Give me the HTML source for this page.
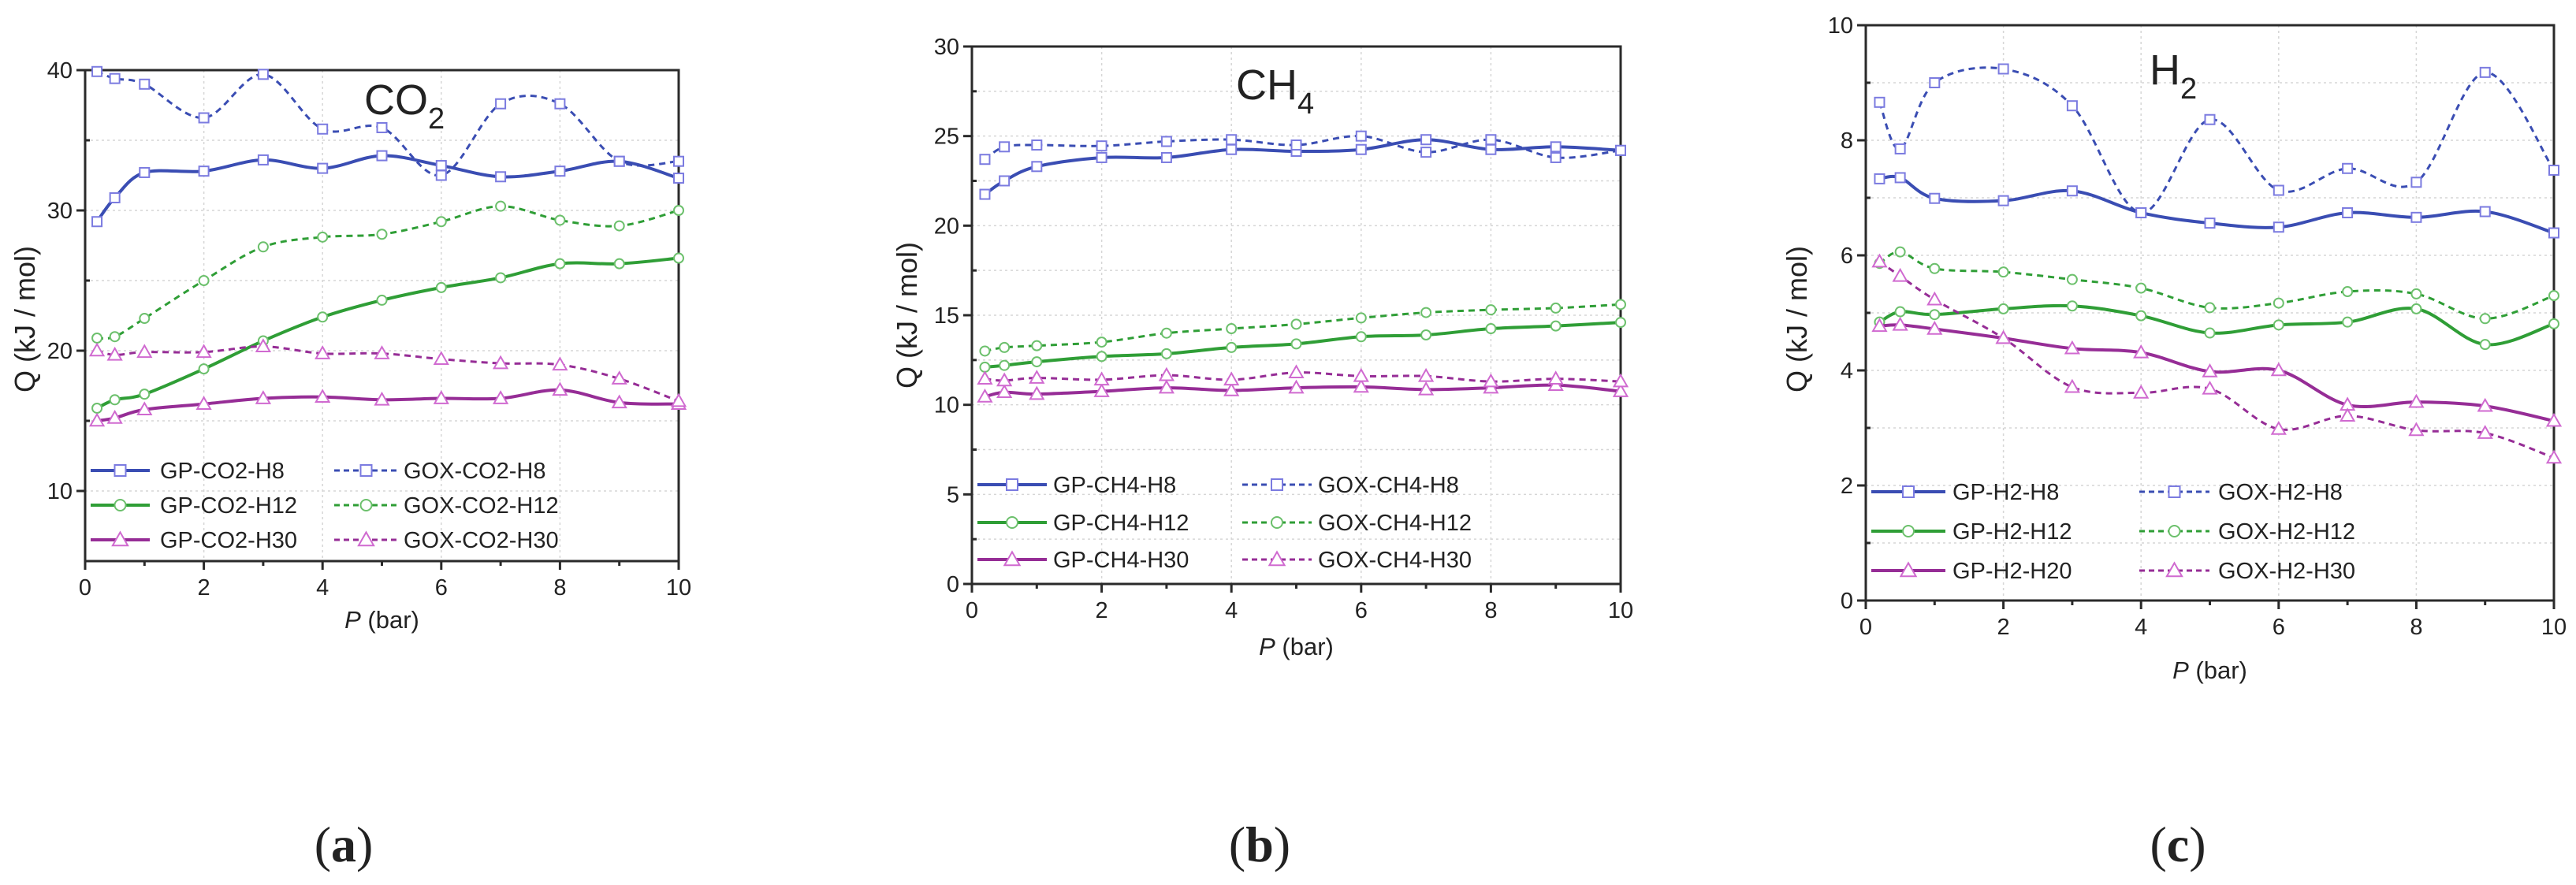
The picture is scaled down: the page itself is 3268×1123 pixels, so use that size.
<!DOCTYPE html>
<html><head><meta charset="utf-8">
<style>
html,body{margin:0;padding:0;background:#fff;}
svg{display:block;}
text{font-family:"Liberation Sans Narrow","Liberation Sans",sans-serif;fill:#222;}
.cap{font-family:"Liberation Serif",serif;}
</style></head>
<body>
<svg id="fig" width="3268" height="1123" viewBox="0 0 3268 1123" xmlns="http://www.w3.org/2000/svg"></svg>
<script>
const pressures = [0.2,0.5,1,2,3,4,5,6,7,8,9,10];
// Panel (a) CO2
const co2_gp_h8   = [29.2,30.9,32.7,32.8,33.6,33.0,33.9,33.2,32.4,32.8,33.5,32.3];
const co2_gox_h8  = [39.9,39.4,39.0,36.6,39.7,35.8,35.9,32.5,37.6,37.6,33.5,33.5];
const co2_gp_h12  = [15.9,16.5,16.9,18.7,20.7,22.4,23.6,24.5,25.2,26.2,26.2,26.6];
const co2_gox_h12 = [20.9,21.0,22.3,25.0,27.4,28.1,28.3,29.2,30.3,29.3,28.9,30.0];
const co2_gp_h30  = [15.0,15.2,15.8,16.2,16.6,16.7,16.5,16.6,16.6,17.2,16.3,16.2];
const co2_gox_h30 = [20.0,19.7,19.9,19.9,20.3,19.8,19.8,19.4,19.1,19.0,18.0,16.4];
// Panel (b) CH4
const ch4_gp_h8   = [21.75,22.5,23.3,23.8,23.8,24.25,24.15,24.25,24.8,24.25,24.4,24.2];
const ch4_gox_h8  = [23.7,24.4,24.5,24.45,24.7,24.8,24.5,25.0,24.1,24.8,23.8,24.2];
const ch4_gp_h12  = [12.1,12.2,12.4,12.7,12.85,13.2,13.4,13.8,13.9,14.25,14.4,14.6];
const ch4_gox_h12 = [13.0,13.2,13.3,13.5,14.0,14.25,14.5,14.85,15.15,15.3,15.4,15.6];
const ch4_gp_h30  = [10.45,10.7,10.6,10.75,10.95,10.8,10.95,11.0,10.85,10.95,11.1,10.75];
const ch4_gox_h30 = [11.45,11.35,11.5,11.4,11.65,11.4,11.8,11.6,11.6,11.3,11.45,11.3];
// Panel (c) H2
const h2_gp_h8   = [7.33,7.35,6.99,6.95,7.12,6.74,6.56,6.49,6.74,6.66,6.76,6.39];
const h2_gox_h8  = [8.66,7.85,9.0,9.24,8.6,6.74,8.36,7.13,7.51,7.27,9.18,7.48];
const h2_gp_h12  = [4.84,5.02,4.97,5.07,5.12,4.95,4.65,4.79,4.84,5.07,4.45,4.81];
const h2_gox_h12 = [5.86,6.06,5.77,5.71,5.58,5.43,5.09,5.17,5.37,5.33,4.9,5.3];
const h2_gp_h20  = [4.77,4.79,4.72,4.56,4.38,4.31,3.98,4.0,3.4,3.45,3.38,3.12];
const h2_gox_h30 = [5.89,5.64,5.23,4.56,3.71,3.61,3.68,2.98,3.21,2.96,2.91,2.48];
// ticks
const xTicks = [0,2,4,6,8,10];
const co2YTicks = [10,20,30,40];
const ch4YTicks = [0,5,10,15,20,25,30];
const h2YTicks = [0,2,4,6,8,10];
const co2Labels = ["GP-CO2-H8","GOX-CO2-H8","GP-CO2-H12","GOX-CO2-H12","GP-CO2-H30","GOX-CO2-H30"];
const ch4Labels = ["GP-CH4-H8","GOX-CH4-H8","GP-CH4-H12","GOX-CH4-H12","GP-CH4-H30","GOX-CH4-H30"];
const h2Labels = ["GP-H2-H8","GOX-H2-H8","GP-H2-H12","GOX-H2-H12","GP-H2-H20","GOX-H2-H30"];

const NS="http://www.w3.org/2000/svg";
const svg=document.getElementById('fig');
function mk(tag,attrs,parent){const e=document.createElementNS(NS,tag);for(const k in attrs)e.setAttribute(k,attrs[k]);(parent||svg).appendChild(e);return e;}

const COLORS={blue:{line:"#3a4db3",mk:"#7b7be0"},green:{line:"#2f9e36",mk:"#6cc06c"},purple:{line:"#962d96",mk:"#d06ad0"}};

function smoothPath(pts){
  let d="M"+pts[0][0]+","+pts[0][1];
  for(let i=0;i<pts.length-1;i++){
    const p0=pts[Math.max(0,i-1)],p1=pts[i],p2=pts[i+1],p3=pts[Math.min(pts.length-1,i+2)];
    const c1x=p1[0]+(p2[0]-p0[0])/6,c1y=p1[1]+(p2[1]-p0[1])/6;
    const c2x=p2[0]-(p3[0]-p1[0])/6,c2y=p2[1]-(p3[1]-p1[1])/6;
    d+=` C${c1x},${c1y} ${c2x},${c2y} ${p2[0]},${p2[1]}`;
  }
  return d;
}
function marker(g,type,x,y,color,s){
  let e;
  if(type==='sq') e=mk('rect',{x:x-s/2,y:y-s/2,width:s,height:s,fill:'#fff',stroke:color,'stroke-width':2},g);
  else if(type==='ci') e=mk('circle',{cx:x,cy:y,r:s/2,fill:'#fff',stroke:color,'stroke-width':2},g);
  else e=mk('polygon',{points:`${x},${y-s*0.6} ${x-s*0.6},${y+s*0.45} ${x+s*0.6},${y+s*0.45}`,fill:'#fff',stroke:color,'stroke-width':2},g);
  return e;
}

function panel(cfg){
  const g=mk('g',{});
  
  
  const X=v=>cfg.x0+(v-0)/10*(cfg.x1-cfg.x0);
  const Y=v=>cfg.yBot-(v-cfg.ymin)/(cfg.ymax-cfg.ymin)*(cfg.yBot-cfg.yTop);
  // grid
  for(let v=cfg.ymin+cfg.minor; v<cfg.ymax-1e-9; v+=cfg.minor){
    const l=mk('line',{x1:cfg.x0,x2:cfg.x1,y1:Y(v),y2:Y(v),stroke:'#d6d6d6','stroke-width':1.5,'stroke-dasharray':'3,4'},g);
    
    
  }
  xTicks.forEach(v=>{ if(v>0&&v<10){
    const l=mk('line',{x1:X(v),x2:X(v),y1:cfg.yTop,y2:cfg.yBot,stroke:'#d6d6d6','stroke-width':1.5,'stroke-dasharray':'3,4'},g);
    
    
  }});
  // frame
  const fr=mk('rect',{x:cfg.x0,y:cfg.yTop,width:cfg.x1-cfg.x0,height:cfg.yBot-cfg.yTop,fill:'none',stroke:'#2a2a2a','stroke-width':3},g);
  
  
  // y ticks
  for(let v=cfg.ymin; v<=cfg.ymax+1e-9; v+=cfg.minor){
    mk('line',{x1:cfg.x0-(cfg.yt.includes(v)?11:0),x2:cfg.x0+(cfg.yt.includes(v)?0:6),y1:Y(v),y2:Y(v),stroke:'#2a2a2a','stroke-width':3},g);
  }
  cfg.yt.forEach(v=>{
    const t=mk('text',{x:cfg.x0-16,y:Y(v)+10,'text-anchor':'end','font-size':29},g);
    t.textContent=v;
    
    
  });
  // x ticks
  for(let v=0; v<=10; v+=1){
    const maj=(v%2===0);
    mk('line',{x1:X(v),x2:X(v),y1:cfg.yBot,y2:cfg.yBot+(maj?11:6),stroke:'#2a2a2a','stroke-width':3},g);
  }
  xTicks.forEach(v=>{
    const t=mk('text',{x:X(v),y:cfg.yBot+43,'text-anchor':'middle','font-size':29},g);
    t.textContent=v;
    
    
  });
  // axis titles
  const xt=mk('text',{x:(cfg.x0+cfg.x1)/2,y:cfg.xTitleY,'text-anchor':'middle','font-size':31},g);
  xt.innerHTML='<tspan font-style="italic">P</tspan> (bar)';
  
  
  const yt=mk('text',{x:0,y:0,'text-anchor':'middle','font-size':36,transform:`translate(${cfg.yTitleX},${cfg.yTitleY}) rotate(-90)`,style:'font-family:"Liberation Sans",sans-serif'},g);
  yt.textContent='Q (kJ / mol)';
  
  
  // gas title
  const gt=mk('text',{x:cfg.gasX,y:cfg.gasY,'font-size':54,style:'font-family:"Liberation Sans",sans-serif'},g);
  gt.innerHTML=cfg.gas[0]+'<tspan font-size="38" dy="18">'+cfg.gas[1]+'</tspan>';
  
  
  // series
  cfg.series.forEach((s,i)=>{
    const sg=mk('g',{},g);
    
    
    const pts=pressures.map((p,j)=>[X(p),Y(s.data[j])]);
    const path=mk('path',{d:smoothPath(pts),fill:'none',stroke:COLORS[s.c].line,'stroke-width':s.dash?3:4,'stroke-dasharray':s.dash?'8,6':'none'},sg);
    
    
    pts.forEach(p=>{
      const m=marker(sg,s.m,p[0],p[1],COLORS[s.c].mk,s.m==='tr'?14:12);
      
      
    });
  });
  // legend
  cfg.labels.forEach((lab,i)=>{
    const s=cfg.series[i];
    const col=i%2,row=Math.floor(i/2);
    const lx=cfg.leg[col][0],lx2=cfg.leg[col][1],tx=cfg.leg[col][2],ly=cfg.legY[row];
    const lg=mk('g',{},g);
    
    
    mk('line',{x1:lx,x2:lx2,y1:ly,y2:ly,stroke:COLORS[s.c].line,'stroke-width':s.dash?3:4,'stroke-dasharray':s.dash?'7,5':'none'},lg);
    marker(lg,s.m,(lx+lx2)/2,ly,COLORS[s.c].mk,s.m==='tr'?16:14);
    const t=mk('text',{x:tx,y:ly+10,'font-size':29},lg);
    t.textContent=lab;
  });
}

function series(a,b,c,d,e,f){return [
  {data:a,c:'blue',m:'sq',dash:false},{data:b,c:'blue',m:'sq',dash:true},
  {data:c,c:'green',m:'ci',dash:false},{data:d,c:'green',m:'ci',dash:true},
  {data:e,c:'purple',m:'tr',dash:false},{data:f,c:'purple',m:'tr',dash:true}];}

panel({name:'panel-a-co2',x0:108,x1:861,ymin:5,ymax:40,yTop:89,yBot:712,minor:5,yt:co2YTicks,
  xTitleY:797,yTitleX:44,yTitleY:405,gas:['CO','2'],gasX:462,gasY:145,
  series:series(co2_gp_h8,co2_gox_h8,co2_gp_h12,co2_gox_h12,co2_gp_h30,co2_gox_h30),labels:co2Labels,
  leg:[[115,190,203],[424,505,512]],legY:[597,641,685]});
panel({name:'panel-b-ch4',x0:1233,x1:2056,ymin:0,ymax:30,yTop:59,yBot:741,minor:2.5,yt:ch4YTicks,
  xTitleY:831,yTitleX:1163,yTitleY:400,gas:['CH','4'],gasX:1568,gasY:126,
  series:series(ch4_gp_h8,ch4_gox_h8,ch4_gp_h12,ch4_gox_h12,ch4_gp_h30,ch4_gox_h30),labels:ch4Labels,
  leg:[[1240,1328,1336],[1576,1664,1672]],legY:[615,663,710]});
panel({name:'panel-c-h2',x0:2367,x1:3240,ymin:0,ymax:10,yTop:32,yBot:762,minor:1,yt:h2YTicks,
  xTitleY:861,yTitleX:2292,yTitleY:405,gas:['H','2'],gasX:2727,gasY:107,
  series:series(h2_gp_h8,h2_gox_h8,h2_gp_h12,h2_gox_h12,h2_gp_h20,h2_gox_h30),labels:h2Labels,
  leg:[[2374,2468,2477],[2714,2803,2814]],legY:[624,674,724]});

[['(a)',436],['(b)',1598],['(c)',2763]].forEach(c=>{
  const t=mk('text',{x:c[1],y:1093,'text-anchor':'middle','font-size':64,class:'cap'});
  t.innerHTML='(<tspan font-weight="bold">'+c[0][1]+'</tspan>)';
  
  
});
</script>
</body></html>
